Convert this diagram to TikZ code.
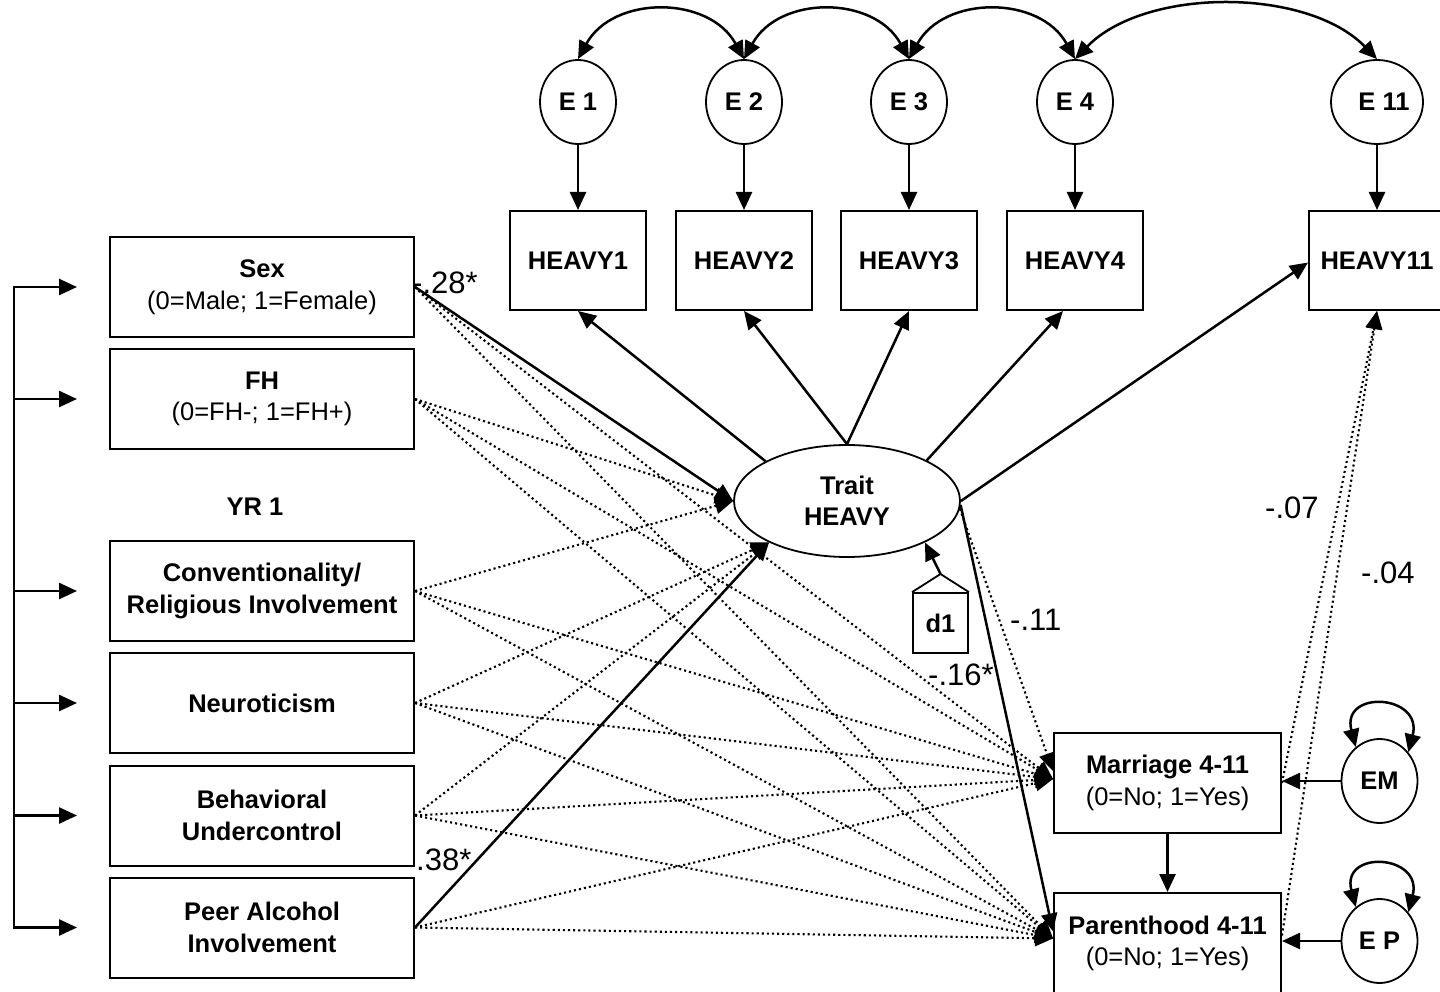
\documentclass[tikz,border=0pt]{standalone}
\usepackage{fontspec}
\setmainfont{Liberation Sans}
\usetikzlibrary{arrows.meta,shapes.geometric}
\newcommand{\mynodefont}{\fontsize{25.5pt}{31.5pt}\selectfont\bfseries}
\newcommand{\mylblfont}{\fontsize{31pt}{36pt}\selectfont}
\begin{document}
\begin{tikzpicture}[x=1pt,y=-1pt,
  box/.style={draw, line width=2pt, inner sep=0pt, align=center, font=\mynodefont, fill=white},
  lbox/.style={box, minimum width=304pt, minimum height=100pt},
  hbox/.style={box, minimum width=136pt, minimum height=99pt},
  mbox/.style={box, minimum width=227pt, minimum height=100pt},
  err/.style={ellipse, draw, line width=1.8pt, minimum width=76pt, minimum height=84pt, inner sep=0pt, font=\mynodefont, fill=white},
  arr/.style={-{Triangle[length=18pt,width=16pt]}, line width=2.5pt},
  dotarr/.style={-{Triangle[length=18pt,width=16pt]}, line width=2.1pt, dash pattern=on 2.1pt off 3pt},
  dbl/.style={{Triangle[length=18pt,width=16pt]}-{Triangle[length=18pt,width=16pt]}, line width=2.5pt},
  lbl/.style={font=\mylblfont, inner sep=0pt, anchor=base west}
]
\useasboundingbox (0,0) rectangle (1440,992);

% left predictor boxes
\node[lbox] (Sex) at (262,287) {Sex\\{\mdseries (0=Male; 1=Female)}};
\node[lbox] (FH) at (262,399) {FH\\{\mdseries (0=FH-; 1=FH+)}};
\node[font=\mynodefont] (YR) at (255,507) {YR 1};
\node[lbox] (Conv) at (262,591) {Conventionality/\\Religious Involvement};
\node[lbox] (Neuro) at (262,703) {Neuroticism};
\node[lbox] (Behav) at (262,815.5) {Behavioral\\Undercontrol};
\node[lbox] (Peer) at (262,927.5) {Peer Alcohol\\Involvement};

% HEAVY boxes and errors
\node[hbox] (H1) at (578,260.5) {HEAVY1};
\node[hbox] (H2) at (744,260.5) {HEAVY2};
\node[hbox] (H3) at (909,260.5) {HEAVY3};
\node[hbox] (H4) at (1075,260.5) {HEAVY4};
\node[hbox] (H11) at (1377,260.5) {HEAVY11};
\node[err] (E1) at (578,102) {E 1};
\node[err] (E2) at (744,102) {E 2};
\node[err] (E3) at (909,102) {E 3};
\node[err] (E4) at (1075,102) {E 4};
\node[err] (E11) at (1377,102) {\hspace*{14pt}E 11};

% trait
\node[ellipse, draw, line width=1.8pt, minimum width=226pt, minimum height=112pt, inner sep=0pt, align=center, font=\mynodefont, fill=white] (Trait) at (847,501) {Trait\\HEAVY};

% d1
\node[draw, line width=1.8pt, minimum width=55pt, minimum height=60pt, inner sep=0pt, font=\mynodefont] (d1) at (940.5,623) {d1};
\coordinate (d1top) at (940.5,574);
\draw[line width=1.8pt, line join=miter] (d1.north west) -- (d1top) -- (d1.north east);

% outcomes
\node[mbox] (Mar) at (1167.5,783) {Marriage 4-11\\{\mdseries (0=No; 1=Yes)}};
\node[mbox, minimum height=101pt] (Par) at (1167.5,943.5) {Parenthood 4-11\\{\mdseries (0=No; 1=Yes)}};
\node[err] (EM) at (1379.5,781) {EM};
\node[err] (EP) at (1379.5,941) {E P};

% bracket
\coordinate (bT) at (14,286);
\draw[line width=2.5pt, line cap=rect] (bT |- Sex.west) -- (bT |- Peer.west);
\foreach \n in {Sex,FH,Conv,Neuro,Behav,Peer}
  \draw[arr] (bT |- \n.west) -- ([xshift=-32pt]\n.west);

% error to indicator
\foreach \i in {1,2,3,4,11}
  \draw[arr] (E\i) -- (H\i);

% correlated errors
\draw[dbl] (E1.north) .. controls +(35,-64) and +(-35,-64) .. (E2.north);
\draw[dbl] (E2.north) .. controls +(35,-64) and +(-35,-64) .. (E3.north);
\draw[dbl] (E3.north) .. controls +(35,-64) and +(-35,-64) .. (E4.north);
\draw[dbl] (E4.north) .. controls +(70,-72) and +(-70,-72) .. (E11.north);

% trait loadings
\draw[arr] (Trait.154) -- (H1.south);
\draw[arr] (Trait.north) -- (H2.south);
\draw[arr] (Trait.north) -- (H3.south);
\draw[arr] (Trait.27) -- ([xshift=-12pt]H4.south);
\draw[arr] (Trait.east) -- ([yshift=-2pt]H11.west);

% d1
\draw[arr] (d1top) -- (Trait.-28);

% predictors -> trait
\draw[arr] (Sex.east) -- (Trait.west);
\draw[dotarr] (FH.east) -- (Trait.west);
\draw[dotarr] (Conv.east) -- (Trait.west);
\draw[dotarr] (Neuro.east) -- (Trait.208);
\draw[dotarr] (Behav.east) -- (Trait.208);
\draw[arr] (Peer.east) -- (Trait.208);

% predictors -> outcomes
\foreach \n in {Sex,FH,Conv,Neuro,Behav,Peer}{
  \draw[dotarr] (\n.east) -- ([yshift=4pt]Mar.west);
  \draw[dotarr] (\n.east) -- ([yshift=5pt]Par.west);
}

% trait -> outcomes
\draw[dotarr] (Trait.-4) -- ([yshift=12pt]Mar.west);
\draw[arr] (Trait.-2) -- ([yshift=12pt]Par.west);

% outcomes
\draw[arr] (Mar) -- (Par);
\draw[arr] (EM.west) -- (EM.west -| Mar.east);
\draw[arr] (EP.west) -- (EP.west -| Par.east);
\draw[dbl] (EM.125) .. controls +(-15,-58) and +(15,-58) .. (EM.45);
\draw[dbl] (EP.125) .. controls +(-15,-58) and +(15,-58) .. (EP.45);

% outcomes -> HEAVY11
\draw[dotarr] (Mar.east) -- (H11.south);
\draw[dotarr] ([yshift=8pt]Par.east) -- (H11.south);

% labels
\node[lbl] (l28) at (412,294) {-.28*};
\node[lbl] (l38) at (416,870) {.38*};
\node[lbl] (l11) at (1010,630) {-.11};
\node[lbl] (l16) at (928,685) {-.16*};
\node[lbl] (l07) at (1265,518) {-.07};
\node[lbl] (l04) at (1361,583) {-.04};
\end{tikzpicture}
\end{document}
